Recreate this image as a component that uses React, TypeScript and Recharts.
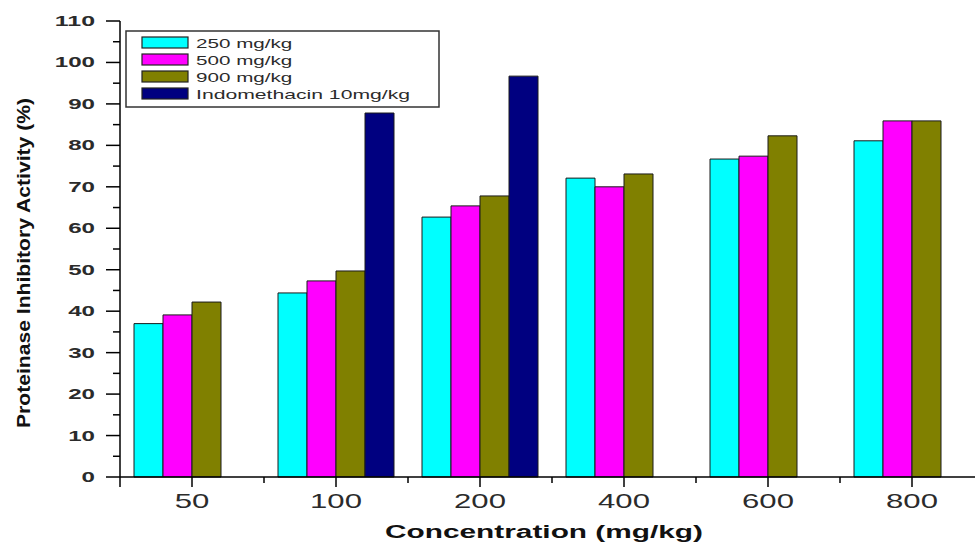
import React from 'react'
import { BarChart, Bar, XAxis, YAxis, Legend } from 'recharts'

const categories = ['50', '100', '200', '400', '600', '800']
const dose250 = [37, 44.4, 62.7, 72.1, 76.7, 81.1]
const dose500 = [39.1, 47.3, 65.4, 70, 77.4, 85.9]
const dose900 = [42.2, 49.7, 67.8, 73.1, 82.3, 85.9]
const indomethacin = [null, 87.8, 96.7, null, null, null]
const yTicks = [0, 5, 10, 15, 20, 25, 30, 35, 40, 45, 50, 55, 60, 65, 70, 75, 80, 85, 90, 95, 100, 105, 110]

const series = [
  { key: 'd250', name: '250 mg/kg', color: '#00FFFF' },
  { key: 'd500', name: '500 mg/kg', color: '#FF00FF' },
  { key: 'd900', name: '900 mg/kg', color: '#808000' },
  { key: 'indo', name: 'Indomethacin 10mg/kg', color: '#000080' },
]

const data = categories.map((c, i) => ({
  conc: c, d250: dose250[i], d500: dose500[i], d900: dose900[i], indo: indomethacin[i],
}))

const FONT = '"Liberation Sans", Arial, sans-serif'
const INK = '#2b2b2b'

function YTick(props: any) {
  const { y, payload } = props
  const v = payload.value as number
  const major = v % 10 === 0
  const label = String(v)
  return (
    <g>
      <line x1={major ? 106 : 113} x2={120} y1={y} y2={y} stroke="#000" strokeWidth={1.5} />
      {major && (
        <text x={95} y={y + 5} textAnchor="end" fontFamily={FONT} fontWeight="bold" fontSize={14} fill={INK}
          textLength={13.4 * label.length} lengthAdjust="spacingAndGlyphs">{label}</text>
      )}
    </g>
  )
}

function XTick(props: any) {
  const { x, payload } = props
  const label = String(payload.value)
  const half = payload.offset || 72
  return (
    <g>
      <line x1={x} x2={x} y1={477} y2={487} stroke="#000" strokeWidth={1.5} />
      <line x1={x - half} x2={x - half} y1={477} y2={x - half < 125 ? 487 : 483} stroke="#000" strokeWidth={1.5} />
      <text x={x} y={508} textAnchor="middle" fontFamily={FONT} fontSize={21} fill={INK}
        textLength={17.3 * label.length} lengthAdjust="spacingAndGlyphs">{label}</text>
    </g>
  )
}

function LegendBox() {
  return (
    <svg width={316} height={79} style={{ display: 'block' }}>
      <rect x={1} y={1} width={313} height={76} fill="#fff" stroke="#333" strokeWidth={1.5} />
      {series.map((s, i) => (
        <g key={s.key}>
          <rect x={17} y={7 + i * 17} width={46} height={11} fill={s.color} stroke="#222" strokeWidth={1.2} />
          <text x={71} y={18 + i * 17} fontFamily={FONT} fontSize={13} fill={INK}
            textLength={10.7 * s.name.length} lengthAdjust="spacingAndGlyphs">{s.name}</text>
        </g>
      ))}
    </svg>
  )
}

export default function App() {
  return (
    <div style={{ position: 'fixed', left: 0, top: 0, width: 975, height: 542, overflow: 'hidden', background: '#fff' }}>
      <BarChart width={1000} height={542} data={data} margin={{ top: 21, right: 16, bottom: 0, left: 0 }}
        barSize={29} barGap={0}>
        <XAxis dataKey="conc" height={65} tick={<XTick />} tickLine={false} axisLine={{ stroke: '#000', strokeWidth: 1.5 }}
          interval={0}
          label={{
            content: () => (
              <text x={544} y={538} textAnchor="middle" fontFamily={FONT} fontWeight="bold" fontSize={18} fill="#111"
                textLength={318} lengthAdjust="spacingAndGlyphs">Concentration (mg/kg)</text>
            ),
          }} />
        <YAxis width={120} domain={[0, 110]} ticks={yTicks} interval={0} tick={<YTick />} tickLine={false}
          axisLine={{ stroke: '#000', strokeWidth: 1.5 }}
          label={{
            content: () => (
              <text x={30} y={263} transform="rotate(-90 30 263)" textAnchor="middle" fontFamily={FONT}
                fontWeight="bold" fontSize={18} fill="#111" textLength={330} lengthAdjust="spacingAndGlyphs">
                Proteinase Inhibitory Activity (%)
              </text>
            ),
          }} />
        <Legend layout="horizontal" verticalAlign="middle" align="center" content={() => <LegendBox />}
          wrapperStyle={{ position: 'absolute', left: 125, top: 30, width: 316, height: 79 }} />
        {series.map((s) => (
          <Bar key={s.key} dataKey={s.key} name={s.name} fill={s.color} stroke="#1a1a1a" strokeWidth={1}
            isAnimationActive={false} />
        ))}
      </BarChart>
    </div>
  )
}
